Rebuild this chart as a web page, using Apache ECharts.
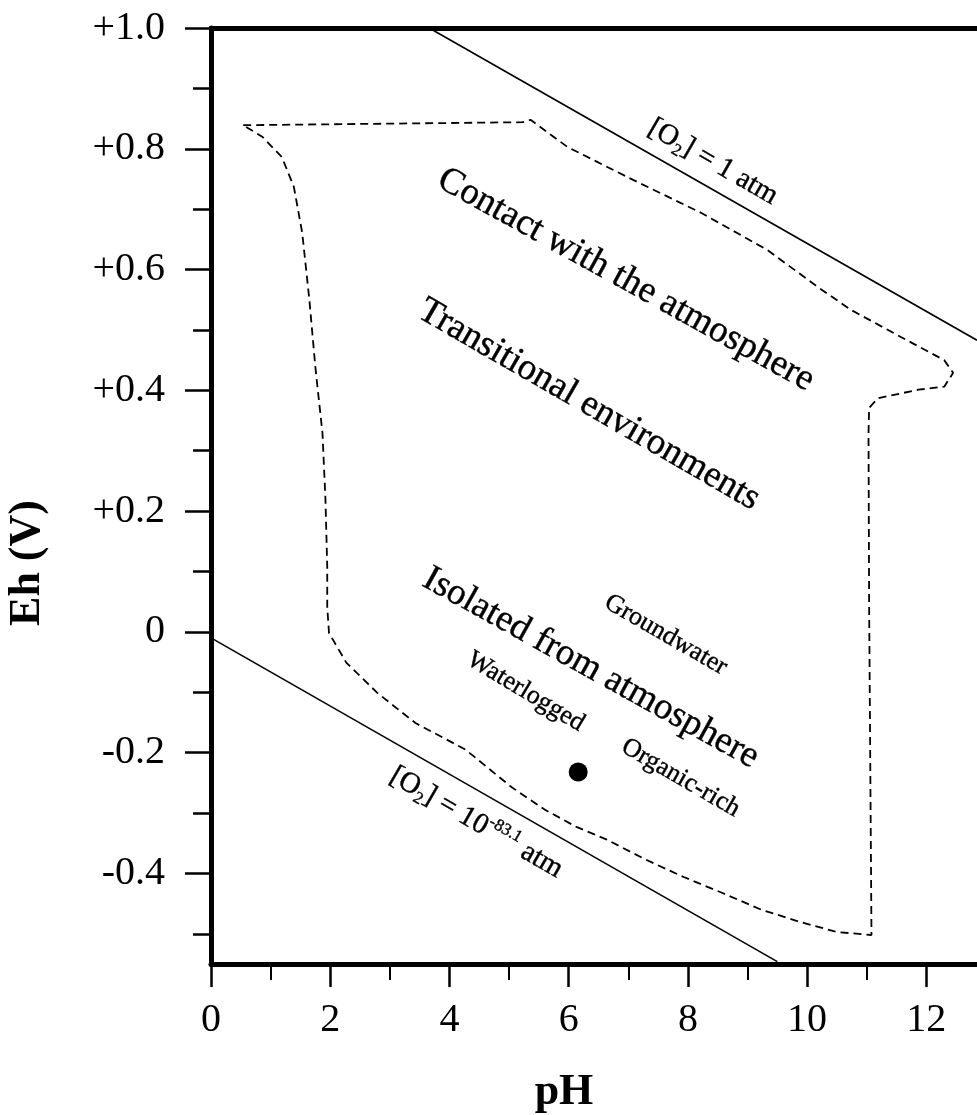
<!DOCTYPE html>
<html>
<head>
<meta charset="utf-8">
<script src="https://cdn.jsdelivr.net/npm/echarts@6/dist/echarts.min.js"></script>
<style>
  html, body { margin: 0; padding: 0; background: #fff; }
  #chart { width: 977px; height: 1115px; }
</style>
</head>
<body>
<div id="chart"></div>
<script>
// axis ticks
const phLabels = [0, 2, 4, 6, 8, 10, 12];
const phMinor = [1, 3, 5, 7, 9, 11];
const ehLabels = [-0.4, -0.2, 0, 0.2, 0.4, 0.6, 0.8, 1.0];
const ehMinor = [-0.5, -0.3, -0.1, 0.1, 0.3, 0.5, 0.7, 0.9];

// water stability limits
const o2HighPH = [3.66, 12.85];
const o2HighEh = [1.0, 0.483];
const o2LowPH = [0, 9.5];
const o2LowEh = [-0.01, -0.546];

// dashed envelope of natural environments
const envPH = [0.54, 5.23, 5.36, 5.98, 7.09, 8.22, 9.34, 10.18, 10.74, 11.58, 12.30, 12.45, 12.30, 11.87, 11.19, 11.04, 11.03, 11.04, 11.08,
  10.50, 9.87, 9.23, 8.57, 7.93, 7.29, 6.64, 6.13, 5.61, 5.04, 4.27, 3.43, 2.79, 2.27, 1.98, 1.95, 1.95, 1.92, 1.87, 1.75, 1.65, 1.53, 1.39, 1.19, 0.86, 0.54];
const envEh = [0.839, 0.844, 0.848, 0.803, 0.748, 0.694, 0.632, 0.571, 0.533, 0.488, 0.450, 0.429, 0.406, 0.401, 0.387, 0.371, 0.329, 0.053, -0.502,
  -0.497, -0.480, -0.460, -0.432, -0.406, -0.377, -0.344, -0.323, -0.295, -0.257, -0.195, -0.151, -0.101, -0.051, -0.002, 0.041, 0.108, 0.219, 0.329, 0.439, 0.550, 0.661, 0.737, 0.786, 0.820, 0.839];

// sample point
const samplePH = [6.16];
const sampleEh = [-0.232];

// region labels
const labelTexts = ['Contact with the atmosphere', 'Transitional environments', 'Isolated from atmosphere',
  'Groundwater', 'Waterlogged', 'Organic-rich', '[O{sub|2}] = 1 atm', '[O{sub|2}] = 10{sup|-83.1} atm'];
const labelPH = [6.96, 6.34, 6.37, 7.63, 5.28, 7.88, 8.42, 4.45];
const labelEh = [0.583, 0.376, -0.060, -0.005, -0.099, -0.242, 0.778, -0.316];

const FONT = '"Liberation Serif", "Times New Roman", serif';
const labelSize = [37, 37, 37, 26, 26, 26, 29, 29];
const labelAngle = [-29, -30, -29, -30, -31, -30, -30, -30];

const zip = (a, b) => a.map((v, i) => [v, b[i]]);

const chart = echarts.init(document.getElementById('chart'));

const fmtEh = v => {
  if (Math.abs(v) < 1e-9) return '0';
  return (v > 0 ? '+' : '') + v.toFixed(1);
};

const option = {
  backgroundColor: '#fff',
  animation: false,
  grid: { left: 211, right: 0, top: 28, bottom: 151 },
  xAxis: [
    {
      type: 'value', min: 0, max: 12.85, position: 'bottom',
      splitLine: { show: false },
      axisLine: { onZero: false, lineStyle: { color: '#000', width: 5 } },
      axisTick: { customValues: phLabels, length: 23, lineStyle: { color: '#000', width: 2.5 } },
      axisLabel: { customValues: phLabels, margin: 36, fontSize: 40, fontFamily: FONT, color: '#000' }
    },
    {
      type: 'value', min: 0, max: 12.85, position: 'bottom',
      splitLine: { show: false },
      axisLine: { show: false, onZero: false },
      axisTick: { customValues: phMinor, length: 16, lineStyle: { color: '#000', width: 2 } },
      axisLabel: { show: false }
    },
    {
      type: 'value', min: 0, max: 12.85, position: 'top',
      splitLine: { show: false },
      axisLine: { onZero: false, lineStyle: { color: '#000', width: 5 } },
      axisTick: { show: false },
      axisLabel: { show: false }
    }
  ],
  yAxis: [
    {
      type: 'value', min: -0.55, max: 1.0, position: 'left',
      splitLine: { show: false },
      axisLine: { onZero: false, lineStyle: { color: '#000', width: 5 } },
      axisTick: { customValues: ehLabels, length: 26, lineStyle: { color: '#000', width: 2.5 } },
      axisLabel: { customValues: ehLabels, margin: 46, fontSize: 40, fontFamily: FONT, color: '#000', formatter: fmtEh }
    },
    {
      type: 'value', min: -0.55, max: 1.0, position: 'left',
      splitLine: { show: false },
      axisLine: { show: false, onZero: false },
      axisTick: { customValues: ehMinor, length: 18, lineStyle: { color: '#000', width: 2.5 } },
      axisLabel: { show: false }
    }
  ],
  graphic: [
    {
      type: 'text', x: 28, y: 563, rotation: Math.PI / 2,
      style: { text: 'Eh (V)', font: 'bold 44px ' + FONT, fill: '#000', align: 'center', verticalAlign: 'middle' }
    },
    {
      type: 'text', x: 564, y: 1093,
      style: { text: 'pH', font: 'bold 44px ' + FONT, fill: '#000', align: 'center', verticalAlign: 'middle' }
    }
  ],
  series: [
    {
      name: 'O2 = 1 atm', type: 'line', data: zip(o2HighPH, o2HighEh),
      showSymbol: false, lineStyle: { color: '#000', width: 1.6 }
    },
    {
      name: 'O2 = 10^-83.1 atm', type: 'line', data: zip(o2LowPH, o2LowEh),
      showSymbol: false, lineStyle: { color: '#000', width: 1.6 }
    },
    {
      name: 'Natural environments', type: 'line', data: zip(envPH, envEh),
      showSymbol: false, lineStyle: { color: '#000', width: 1.8, type: [8, 5] }
    },
    {
      name: 'Sample', type: 'scatter', data: zip(samplePH, sampleEh),
      symbolSize: 19, itemStyle: { color: '#000', opacity: 1 }
    },
    {
      name: 'Labels', type: 'scatter', symbolSize: 1, silent: true,
      itemStyle: { color: '#fff', opacity: 1 },
      data: labelTexts.map((t, i) => ({
        value: [labelPH[i], labelEh[i]],
        label: {
          show: true, position: 'inside', formatter: t, opacity: 1,
          rotate: labelAngle[i], align: 'center', verticalAlign: 'middle',
          fontSize: labelSize[i], fontFamily: FONT, color: '#000', lineHeight: 34,
          textBorderColor: '#000', textBorderWidth: 0.4,
          rich: {
            sub: { fontSize: 17, fontFamily: FONT, color: '#000', verticalAlign: 'bottom', lineHeight: 17 },
            sup: { fontSize: 17, fontFamily: FONT, color: '#000', verticalAlign: 'top', lineHeight: 17 }
          }
        }
      }))
    }
  ]
};

chart.setOption(option);
window.addEventListener('resize', () => chart.resize());
</script>
</body>
</html>
